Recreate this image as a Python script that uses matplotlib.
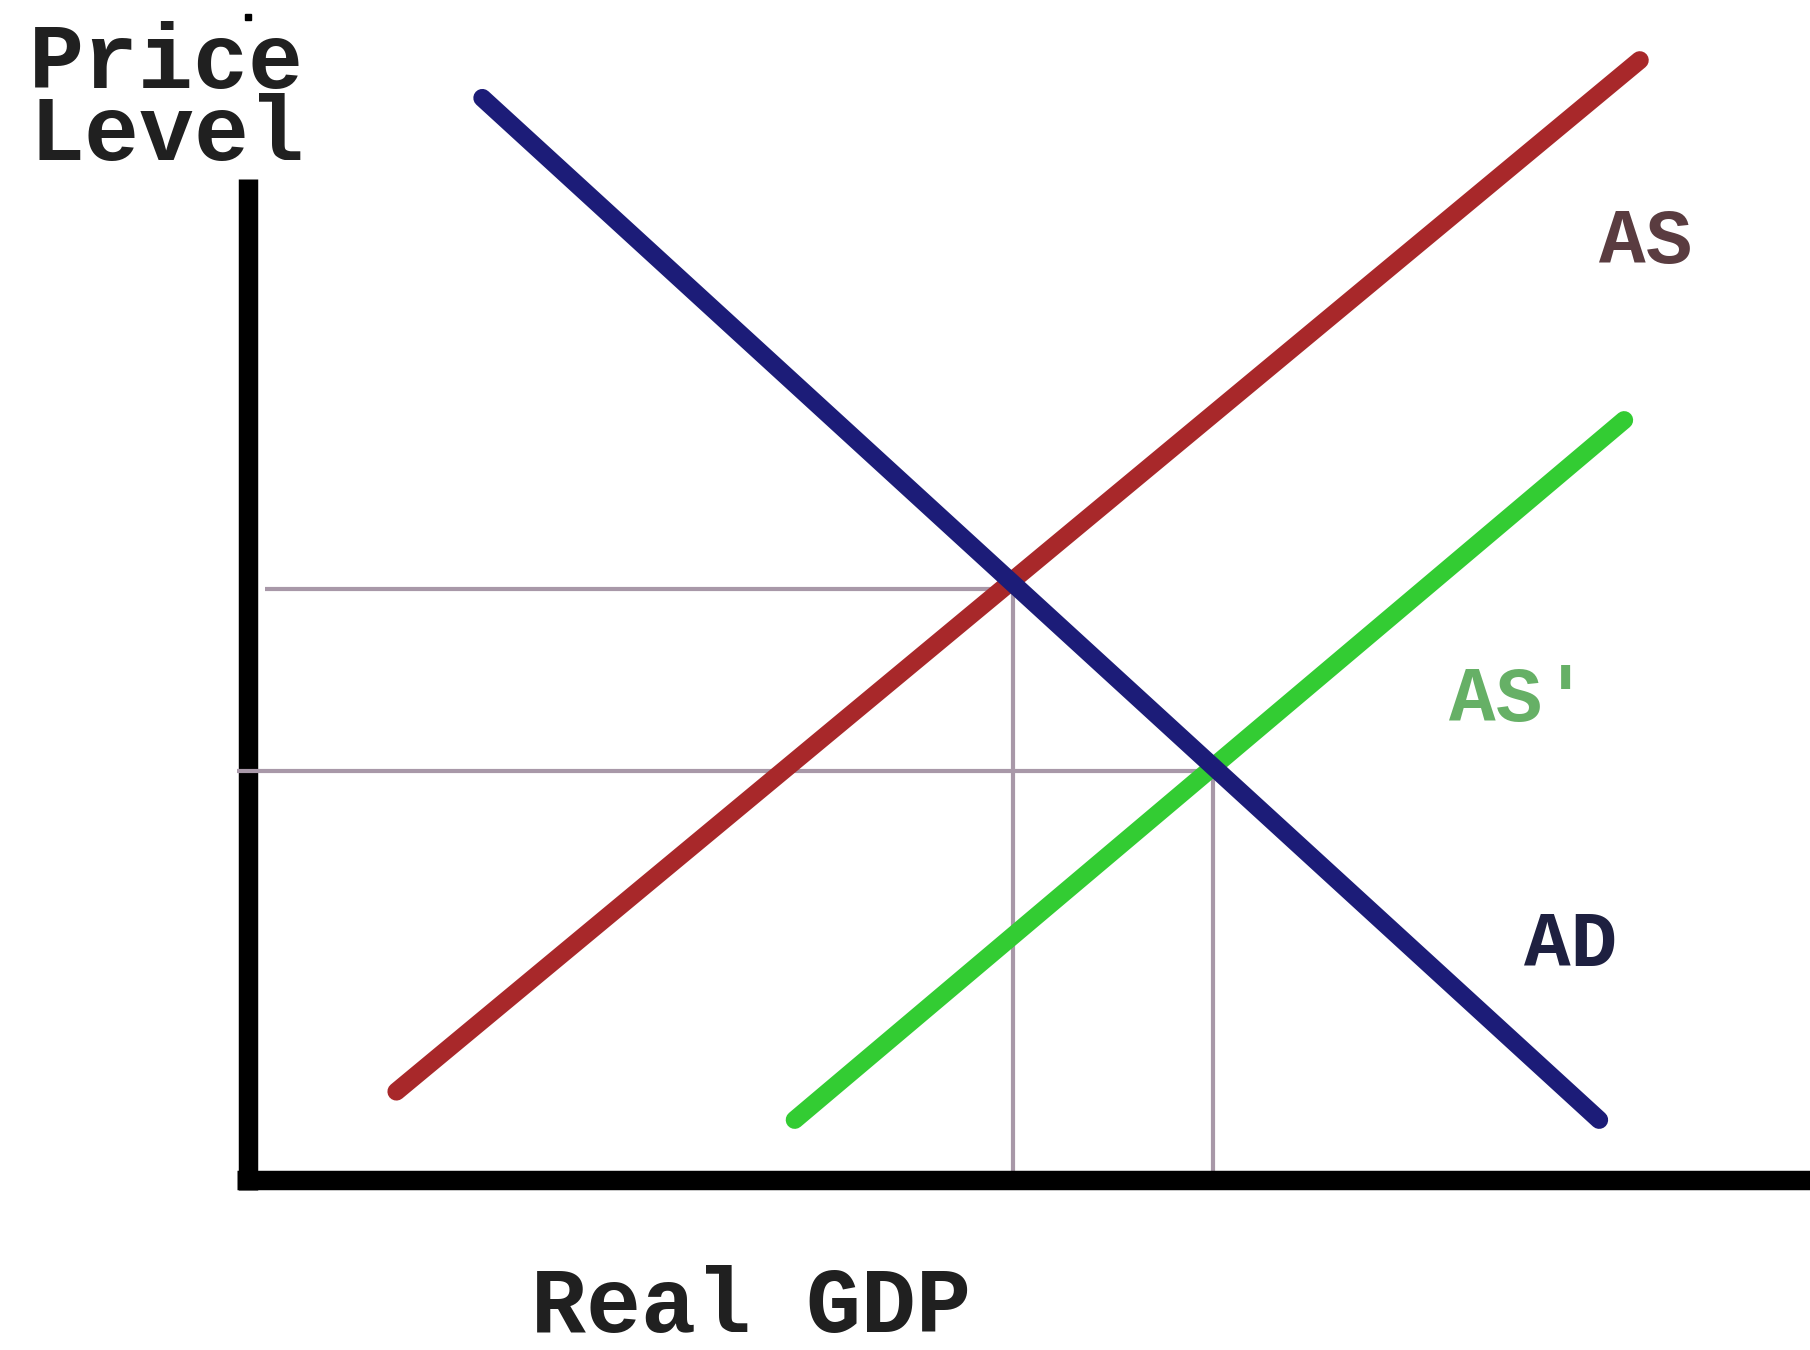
import matplotlib.pyplot as plt

# curve endpoints (real GDP, price level)
ad_x = [15.0, 86.5]
ad_y = [91.7, 5.1]
as_x = [9.5, 89.1]
as_y = [7.5, 94.9]
as2_x = [35.0, 88.1]
as2_y = [5.1, 64.4]

# equilibrium points
eq_gdp = [49.0, 61.8]
eq_price = [50.1, 34.7]
guide_start = [1.1, -0.7]

y_axis_top = 84.8
x_axis_right = 100.0

font = 'Liberation Mono'

fig = plt.figure(figsize=(18.1, 13.5), dpi=100)
ax = fig.add_axes([0, 0, 1, 1])
ax.set_xlim(-15.88, 100)
ax.set_ylim(-14.4, 100)
ax.axis('off')

# guide lines to the axes
for gx, gy, gs in zip(eq_gdp, eq_price, guide_start):
    ax.plot([gs, gx], [gy, gy], color='#a898a8', lw=3, solid_capstyle='butt', zorder=3)
    ax.plot([gx, gx], [gy, 0], color='#a898a8', lw=3, solid_capstyle='butt', zorder=1)

# axes
ax.plot([0, 0], [-0.85, y_axis_top], color='black', lw=14, solid_capstyle='butt', zorder=2)
ax.plot([-0.7, x_axis_right], [0, 0], color='black', lw=14, solid_capstyle='butt', zorder=2)
ax.plot([0], [98.6], marker='s', ms=5, color='black')

# supply and demand curves
ax.plot(as_x, as_y, color='#a8282a', lw=13, solid_capstyle='round', zorder=4)
ax.plot(as2_x, as2_y, color='#33cc33', lw=13, solid_capstyle='round', zorder=4)
ax.plot(ad_x, ad_y, color='#1c1c78', lw=13, solid_capstyle='round', zorder=5)

# labels
ax.text(-14.0, 86.4, 'Price\nLevel', fontsize=66, family=font, weight='bold',
        color='#202020', va='baseline', linespacing=0.8)
ax.text(18.1, -12.9, 'Real GDP', fontsize=66, family=font, weight='bold',
        color='#202020', va='baseline')
ax.text(86.5, 77.7, 'AS', fontsize=56, family=font, weight='bold', color='#5a3c40', va='baseline')
ax.text(76.9, 38.9, "AS'", fontsize=56, family=font, weight='bold', color='#66b066', va='baseline')
ax.text(81.7, 18.1, 'AD', fontsize=56, family=font, weight='bold', color='#1e2040', va='baseline')

plt.savefig('out.png', dpi=100)
